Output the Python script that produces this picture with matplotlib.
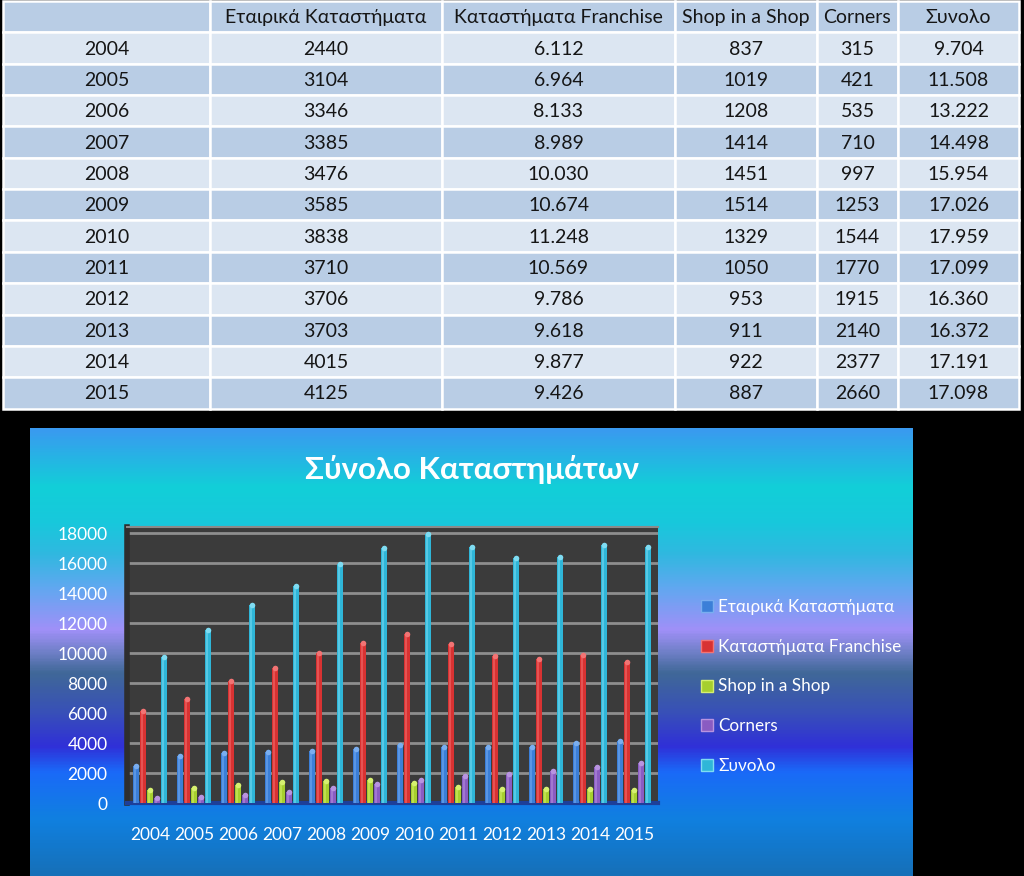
import numpy as np
import matplotlib.pyplot as plt
from matplotlib.colors import LinearSegmentedColormap
from matplotlib.patches import Rectangle, Patch

plt.rcParams['font.family'] = ['Lato', 'Open Sans', 'DejaVu Sans']

years = ['2004', '2005', '2006', '2007', '2008', '2009',
         '2010', '2011', '2012', '2013', '2014', '2015']
etairika = [2440, 3104, 3346, 3385, 3476, 3585, 3838, 3710, 3706, 3703, 4015, 4125]
franchise = [6112, 6964, 8133, 8989, 10030, 10674, 11248, 10569, 9786, 9618, 9877, 9426]
shop_in_shop = [837, 1019, 1208, 1414, 1451, 1514, 1329, 1050, 953, 911, 922, 887]
corners = [315, 421, 535, 710, 997, 1253, 1544, 1770, 1915, 2140, 2377, 2660]
synolo = [9704, 11508, 13222, 14498, 15954, 17026, 17959, 17099, 16360, 16372, 17191, 17098]

series_names = ['Εταιρικά Καταστήματα', 'Καταστήματα Franchise', 'Shop in a Shop',
                'Corners', 'Συνολο']
chart_title = 'Σύνολο Καταστημάτων'

W, H = 1024, 876


def px_box(x0, y0, x1, y1):
    return [x0 / W, 1 - y1 / H, (x1 - x0) / W, (y1 - y0) / H]


def greek_thousands(v):
    return f"{v:,}".replace(",", ".")


fig = plt.figure(figsize=(W / 100, H / 100), dpi=100, facecolor='black')

# background layer in pixel coords (table + chart panel)
bg = fig.add_axes([0, 0, 1, 1])
bg.set_xlim(0, W)
bg.set_ylim(H, 0)
bg.axis('off')

# --- table ---
col_edges = [3, 210, 442, 675, 817, 898, 1019]
row_h = 31.35
rows = [[''] + series_names]
for i in range(len(years)):
    rows.append([years[i], str(etairika[i]), greek_thousands(franchise[i]),
                 str(shop_in_shop[i]), str(corners[i]), greek_thousands(synolo[i])])

for r, row in enumerate(rows):
    y0 = 1 + r * row_h
    fill = '#b9cde5' if r % 2 == 0 else '#dce6f2'
    for c in range(6):
        x0, x1 = col_edges[c], col_edges[c + 1]
        bg.add_patch(Rectangle((x0, y0), x1 - x0, row_h, facecolor=fill,
                               edgecolor='white', linewidth=1.8))
        bg.text((x0 + x1) / 2, y0 + row_h / 2 + 1, row[c], ha='center', va='center',
                fontsize=14, color='#151515')

# --- chart panel gradient ---
stops = [(0.0, '#3a9af0'), (0.13, '#12cfd8'), (0.21, '#18c8dc'), (0.28, '#30b8e0'),
         (0.355, '#60a8f0'), (0.45, '#a090f8'), (0.50, '#7080c8'), (0.547, '#406898'),
         (0.636, '#3850b8'), (0.712, '#3030d8'), (0.77, '#1a6af8'), (0.875, '#1080e0'),
         (1.0, '#1670b8')]
cmap = LinearSegmentedColormap.from_list('panel', stops)
bg.imshow(np.linspace(0, 1, 400)[:, None], extent=(30, 913, 876, 428), cmap=cmap,
          aspect='auto', origin='upper', zorder=0)
bg.set_xlim(0, W)
bg.set_ylim(H, 0)

fig.text(472 / W, 1 - 470 / H, chart_title, ha='center', va='center',
         fontsize=22.5, fontweight='bold', color='white')

# --- bar chart ---
ax = fig.add_axes(px_box(127, 527, 658, 803))
ax.set_facecolor('#3b3b3b')

colors = ['#3b7fd8', '#d83232', '#a6cf2e', '#8a5cc2', '#2fb6d8']
lights = ['#79aef0', '#f27474', '#d6f070', '#b894e0', '#7fdcf2']
offsets = [-0.32, -0.16, 0.0, 0.16, 0.32]
w = 0.14
x = np.arange(len(years))
for k, vals in enumerate([etairika, franchise, shop_in_shop, corners, synolo]):
    xs = x + offsets[k]
    ax.bar(xs, vals, w, color=colors[k], zorder=3)
    ax.bar(xs - w * 0.12, vals, w * 0.35, color=lights[k], alpha=0.5, zorder=4)
    ax.scatter(xs, vals, s=16, color=lights[k], zorder=5, linewidths=0)

ax.set_xlim(-0.523, 11.545)
ax.set_ylim(0, 18400)
ax.set_yticks(range(0, 18001, 2000))
ax.set_xticks(x)
ax.set_xticklabels(years)
ax.tick_params(axis='both', length=0, labelcolor='white', labelsize=12.5)
ax.tick_params(axis='x', pad=17)
ax.tick_params(axis='y', pad=14)
ax.yaxis.grid(True, color='#8e8e8e', linewidth=2)
ax.set_axisbelow(True)
ax.spines['right'].set_visible(False)
ax.spines['top'].set_color('#8a8a8a')
ax.spines['top'].set_linewidth(1.5)
ax.spines['left'].set_color('#2e2e2e')
ax.spines['left'].set_linewidth(4)
ax.spines['bottom'].set_color('#1d3f9a')
ax.spines['bottom'].set_linewidth(3)

handles = [Patch(facecolor=colors[k], edgecolor=lights[k]) for k in range(5)]
fig.legend(handles, series_names, loc='center left',
           bbox_to_anchor=(686 / W, 1 - 686.5 / H), frameon=False,
           labelcolor='white', fontsize=12.3, handlelength=0.7, handleheight=0.7,
           handletextpad=0.3, labelspacing=1.38)

fig.savefig('out.png', dpi=100, facecolor='black')
